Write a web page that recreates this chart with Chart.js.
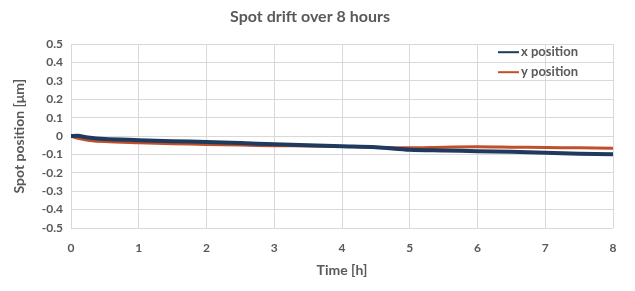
<!DOCTYPE html>
<html lang="en">
<head>
    <meta charset="UTF-8">
    <title>Spot drift over 8 hours</title>
    <script src="https://cdnjs.cloudflare.com/ajax/libs/Chart.js/4.4.1/chart.umd.min.js"></script>
    <style>
        body {
            margin: 0;
            background: white;
        }
        .wrap {
            width: 635px;
            height: 291px;
        }
    </style>
</head>
<body>
    <div class="wrap">
        <canvas id="driftChart" width="635" height="291"></canvas>
    </div>

    <script>
        // time in hours
        let times = [0, 0.1, 0.25, 0.5, 1, 1.5, 2, 2.5, 3, 3.5, 4, 4.5, 5, 5.5, 6, 6.5, 7, 7.5, 8];
        // spot position in um
        let xPos = [0, 0.002, -0.008, -0.016, -0.022, -0.028, -0.032, -0.038, -0.044, -0.05, -0.055, -0.06, -0.074, -0.078, -0.082, -0.085, -0.09, -0.096, -0.099];
        let yPos = [0, -0.012, -0.022, -0.03, -0.036, -0.041, -0.046, -0.049, -0.052, -0.054, -0.056, -0.06, -0.064, -0.06, -0.058, -0.06, -0.062, -0.064, -0.066];
        let seriesNames = ['x position', 'y position'];
        let seriesColors = ['#1f3a5f', '#c0502a'];

        let grey = '#595959';
        let font = 'Lato, "Open Sans", sans-serif';

        function toPoints(vals) {
            return times.map((t, i) => ({ x: t, y: vals[i] }));
        }

        // legend drawn inside the plot, top right
        const insideLegend = {
            id: 'insideLegend',
            afterDraw(chart) {
                let ctx = chart.ctx;
                let area = chart.chartArea;
                ctx.save();
                ctx.font = 'bold 13px ' + font;
                ctx.textBaseline = 'middle';
                seriesNames.forEach((name, i) => {
                    let y = area.top + 8 + i * 20;
                    let x0 = area.right - 115;
                    ctx.strokeStyle = seriesColors[i];
                    ctx.lineWidth = 2;
                    ctx.beginPath();
                    ctx.moveTo(x0, y);
                    ctx.lineTo(x0 + 21, y);
                    ctx.stroke();
                    ctx.fillStyle = grey;
                    ctx.fillText(name, x0 + 23, y);
                });
                ctx.restore();
            }
        };

        let ctx = document.getElementById('driftChart').getContext('2d');
        new Chart(ctx, {
            type: 'line',
            data: {
                datasets: [
                    {
                        label: seriesNames[0],
                        data: toPoints(xPos),
                        borderColor: seriesColors[0],
                        borderWidth: 4,
                        pointRadius: 0,
                        tension: 0.3
                    },
                    {
                        label: seriesNames[1],
                        data: toPoints(yPos),
                        borderColor: seriesColors[1],
                        borderWidth: 3,
                        pointRadius: 0,
                        tension: 0.3
                    }
                ]
            },
            options: {
                responsive: false,
                animation: false,
                layout: {
                    padding: { left: 7, right: 22, top: 0, bottom: 8 }
                },
                plugins: {
                    legend: { display: false },
                    tooltip: { enabled: false },
                    title: {
                        display: true,
                        text: 'Spot drift over 8 hours',
                        color: grey,
                        font: { family: font, size: 16, weight: 'bold' },
                        padding: { top: 7, bottom: 18 }
                    }
                },
                scales: {
                    x: {
                        type: 'linear',
                        min: 0,
                        max: 8,
                        ticks: {
                            stepSize: 1,
                            color: grey,
                            padding: 13,
                            font: { family: font, size: 12, weight: 'bold' }
                        },
                        grid: { color: '#d9d9d9', drawTicks: false },
                        border: { display: false },
                        title: {
                            display: true,
                            text: 'Time [h]',
                            color: grey,
                            font: { family: font, size: 14, weight: 'bold' },
                            padding: { top: 0 }
                        },
                        afterFit(scale) {
                            scale.height = 55;
                        }
                    },
                    y: {
                        min: -0.5,
                        max: 0.5,
                        ticks: {
                            stepSize: 0.1,
                            color: grey,
                            padding: 8,
                            font: { family: font, size: 12, weight: 'bold' },
                            callback: v => Math.round(v * 10) / 10
                        },
                        grid: { color: '#d9d9d9', drawTicks: false },
                        border: { display: false },
                        title: {
                            display: true,
                            text: 'Spot position [μm]',
                            color: grey,
                            font: { family: font, size: 14, weight: 'bold' },
                            padding: { bottom: 2 }
                        },
                        afterFit(scale) {
                            scale.width = 64;
                        }
                    }
                }
            },
            plugins: [insideLegend]
        });
    </script>
</body>
</html>
